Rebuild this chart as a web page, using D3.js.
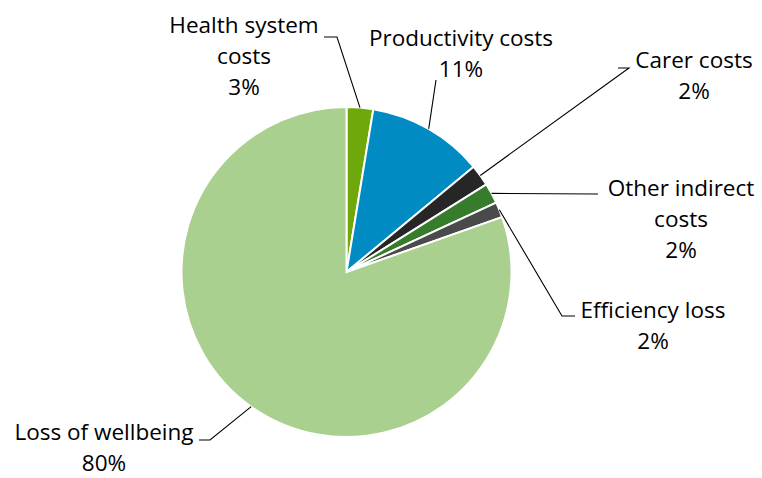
<!DOCTYPE html>
<html><head><meta charset="utf-8">
<script src="https://cdn.jsdelivr.net/npm/d3@7"></script>
<style>body{margin:0;background:#fff}svg{display:block}</style>
</head><body>
<svg id="c" width="762" height="478"></svg>
<script>
// Data
const categories = [["Health system","costs"],["Productivity costs"],["Carer costs"],["Other indirect","costs"],["Efficiency loss"],["Loss of wellbeing"]];
const values = [2.6, 11.4, 2.1, 2.0, 1.5, 80.4];
const colors = ["#6fa80b","#008bc3","#262626","#367c2b","#4a4a4a","#a9d08e"];

// Layout (label placement, not data)
const layout = [
  {tx:244, ty:33, pts:[[337,37],[324,37]]},
  {tx:461, ty:46, pts:[[436,80]]},
  {tx:694, ty:68, pts:[[629,68],[618,68]]},
  {tx:681, ty:196, pts:[[598,194]]},
  {tx:653, ty:318, pts:[[562,316],[575,316]]},
  {tx:104, ty:440, pts:[[210,440],[199,440]]}
];

const svg = d3.select("#c");
const cx = 346.5, cy = 272, r = 165;
const g = svg.append("g").attr("transform",`translate(${cx},${cy})`);
const pie = d3.pie().sort(null).value(d=>d);
const arcs = pie(values);
const arc = d3.arc().innerRadius(0).outerRadius(r);
g.selectAll("path.s").data(arcs).join("path").attr("class","s")
  .attr("d",arc).attr("fill",(d,i)=>colors[i]).attr("stroke","#fff").attr("stroke-width",2);

const fmt = v => Math.round(v) + "%";
const font = "'Open Sans', sans-serif";
arcs.forEach((a,i)=>{
  const m = (a.startAngle+a.endAngle)/2;
  const p0 = [cx + r*Math.sin(m), cy - r*Math.cos(m)];
  const L = layout[i];
  const pts = [p0, ...L.pts];
  svg.append("path").attr("d", d3.line()(pts)).attr("fill","none").attr("stroke","#000").attr("stroke-width",1.1);
  const lines = [...categories[i], fmt(values[i])];
  const t = svg.append("text").attr("text-anchor","middle").attr("font-family",font).attr("font-size",22.5).attr("fill","#000");
  lines.forEach((s,k)=>{
    t.append("tspan").attr("x",L.tx).attr("y",L.ty + k*31).text(s);
  });
});
</script>
</body></html>
